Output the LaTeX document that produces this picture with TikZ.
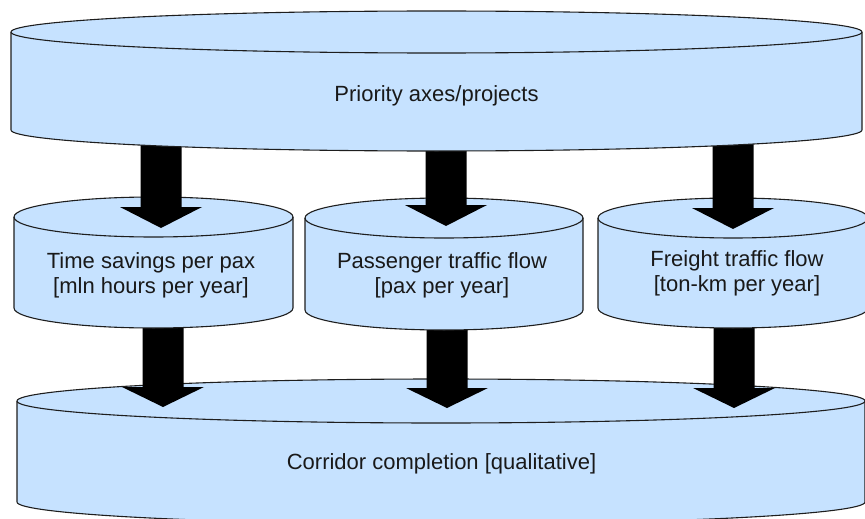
\documentclass[tikz,border=0pt]{standalone}
\usepackage{fontspec}
\setmainfont{Liberation Sans}
\usetikzlibrary{calc}
\definecolor{cylfill}{HTML}{C6E2FF}
\definecolor{cyledge}{HTML}{1E1E1E}
\tikzset{
  cylstyle/.style={fill=cylfill,draw=cyledge,line width=1.1pt,line join=round},
  lbl/.style={font=\fontsize{22}{25}\selectfont,align=center,inner sep=0pt,text=black!90},
  blockarrow/.style={fill=black}
}
% cylinder: x-left, x-right, top-ellipse centre y, bottom-ellipse centre y, y-radius (pixel units, y downwards)
\newcommand{\mycyl}[5]{%
  \filldraw[cylstyle] (#1,-#3) -- (#1,-#4)
    arc[start angle=180,end angle=360,x radius={((#2)-(#1))/2*1pt},y radius={#5*1pt}]
    -- (#2,-#3)
    arc[start angle=0,end angle=180,x radius={((#2)-(#1))/2*1pt},y radius={#5*1pt}] -- cycle;
  \draw[cylstyle,fill=none] (#1,-#3)
    arc[start angle=180,end angle=360,x radius={((#2)-(#1))/2*1pt},y radius={#5*1pt}];
}
% block arrow from coordinate #1 to tip coordinate #2, head length #3
\newcommand{\myarrow}[3]{%
  \fill[blockarrow] ($(#1)+(-20.5,0)$) -- ($(#2)+(-20.5,#3)$) -- ($(#2)+(-41,#3)$)
    -- (#2) -- ($(#2)+(41,#3)$) -- ($(#2)+(20.5,#3)$) -- ($(#1)+(20.5,0)$) -- cycle;
}
\begin{document}
\begin{tikzpicture}[x=1pt,y=1pt]
\useasboundingbox (0,0) rectangle (865,-519);
\begin{scope}
\clip (0,0) rectangle (865,-519);
% bottom cylinder
\mycyl{17}{865}{401}{502}{22}
\node[lbl] (corr) at (441.5,-464) {Corridor completion [qualitative]};
% lower arrows (start under the middle cylinders)
\coordinate (s1) at (163,-318);
\coordinate (e1) at (163,-407);
\coordinate (s2) at (447,-318);
\coordinate (e2) at (447,-408);
\coordinate (s3) at (734,-318);
\coordinate (e3) at (734,-408);
\myarrow{s1}{e1}{20}
\myarrow{s2}{e2}{20}
\myarrow{s3}{e3}{20}
% middle cylinders
\mycyl{14}{293}{217}{308}{20}
\mycyl{305}{583}{218}{310}{20}
\mycyl{598}{868}{218}{308}{20}
\node[lbl] (time) at (151,-275) {Time savings per pax\\ {[mln hours per year]}};
\node[lbl] (pass) at (442,-275) {Passenger traffic flow\\ {[pax per year]}};
\node[lbl] (frei) at (737,-273) {Freight traffic flow\\ {[ton-km per year]}};
% upper arrows (start under the top cylinder)
\coordinate (u1) at (161,-135);
\coordinate (v1) at (161,-228);
\coordinate (u2) at (446,-135);
\coordinate (v2) at (446,-226);
\coordinate (u3) at (733,-135);
\coordinate (v3) at (733,-229);
\myarrow{u1}{v1}{21}
\myarrow{u2}{v2}{21}
\myarrow{u3}{v3}{21}
% top cylinder
\mycyl{11}{862}{32}{130}{21}
\node[lbl] (prio) at (436.5,-96) {Priority axes/projects};
\end{scope}
\end{tikzpicture}
\end{document}
